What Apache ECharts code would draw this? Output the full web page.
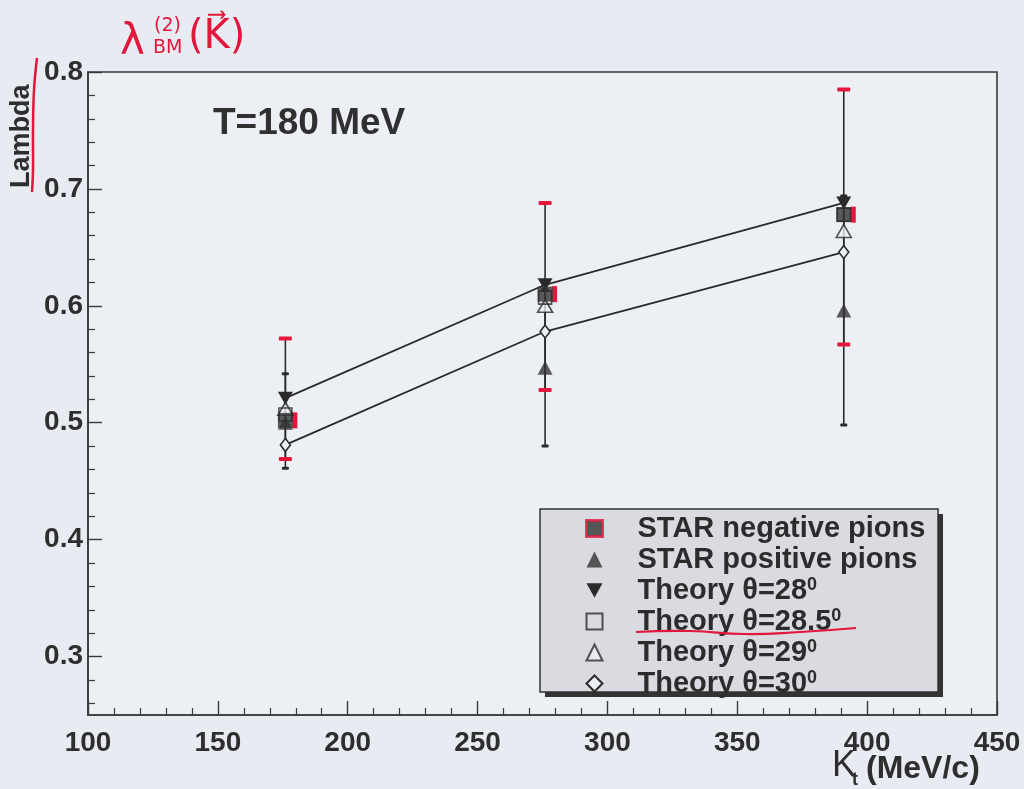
<!DOCTYPE html>
<html>
<head>
<meta charset="utf-8">
<script src="https://cdn.jsdelivr.net/npm/echarts@6/dist/echarts.min.js"></script>
<style>
html,body{margin:0;padding:0;background:#e8ebf1;}
#c{width:1024px;height:789px;}
</style>
</head>
<body>
<div id="c"></div>
<script>
// ---- data ----
const kt = [176, 276, 391];
const starNeg = [0.502, 0.610, 0.678];
const starNegLow = [0.469, 0.528, 0.567];
const starNegHigh = [0.572, 0.688, 0.785];
const starPos = [0.500, 0.547, 0.596];
const starPosLow = [0.461, 0.480, 0.498];
const starPosHigh = [0.542, 0.614, 0.694];
const theory28 = [0.521, 0.618, 0.688];
const theory285 = [0.507, 0.607, 0.678];
const theory29 = [0.512, 0.600, 0.664];
const theory30 = [0.481, 0.578, 0.646];
const xTicks = [100, 150, 200, 250, 300, 350, 400, 450];
const yTicks = [0.3, 0.4, 0.5, 0.6, 0.7, 0.8];
const yMinorTicks = [0.26, 0.28, 0.32, 0.34, 0.36, 0.38, 0.42, 0.44, 0.46, 0.48, 0.52, 0.54, 0.56, 0.58, 0.62, 0.64, 0.66, 0.68, 0.72, 0.74, 0.76, 0.78];

const BG = '#eceff4';
const INK = '#2a2a2a';
const RED = '#e3163c';
const FONT = 'Liberation Sans';

function pairs(ys) { return kt.map((x, i) => [x, ys[i]]); }
function errData(lo, hi, c) { return kt.map((x, i) => [x, lo[i], hi[i], c[i]]); }

function errRender(capColor, capW, capH, redSide) {
  return function (params, api) {
    const x = api.value(0);
    const lo = api.coord([x, api.value(1)]);
    const hi = api.coord([x, api.value(2)]);
    const c = api.coord([x, api.value(3)]);
    const children = [
      { type: 'line', shape: { x1: lo[0], y1: lo[1], x2: hi[0], y2: hi[1] }, style: { stroke: INK, lineWidth: 1.6 } },
      { type: 'rect', shape: { x: hi[0] - capW / 2, y: hi[1] - capH / 2, width: capW, height: capH, r: 1 }, style: { fill: capColor } },
      { type: 'rect', shape: { x: lo[0] - capW / 2, y: lo[1] - capH / 2, width: capW, height: capH, r: 1 }, style: { fill: capColor } }
    ];
    if (redSide) {
      children.push({ type: 'rect', shape: { x: c[0] + 7, y: c[1] - 8, width: 5, height: 16 }, style: { fill: RED }, z2: 100 });
    }
    return { type: 'group', children: children };
  };
}

const openStyle = { color: BG, borderColor: INK, borderWidth: 1.6 };
const downTri = 'path://M0,0 L10,0 L5,9 Z';

const chart = echarts.init(document.getElementById('c'), null, { renderer: 'canvas' });
chart.setOption({
  backgroundColor: '#e8ebf1',
  animation: false,
  textStyle: { fontFamily: FONT },
  grid: { left: 88, right: 27, top: 72, bottom: 74, show: true, backgroundColor: BG, borderColor: '#3a3a3a', borderWidth: 1.6 },
  title: {
    text: 'T=180 MeV', left: 208, top: 100,
    textStyle: { fontSize: 37, fontWeight: 'bold', color: '#303030', fontFamily: FONT }
  },
  xAxis: {
    type: 'value', min: 100, max: 450, interval: 50,
    axisLine: { show: true, lineStyle: { color: '#3a3a3a', width: 1.6 } },
    axisTick: { show: true, inside: true, length: 14, lineStyle: { color: '#3a3a3a', width: 1.4 } },
    minorTick: { show: true, splitNumber: 5, length: 7, lineStyle: { color: '#3a3a3a', width: 1.2 } },
    splitLine: { show: false },
    axisLabel: { margin: 14, fontSize: 28, fontWeight: 'bold', color: '#2e2e2e', fontFamily: FONT, showMaxLabel: true, showMinLabel: true }
  },
  yAxis: [
    {
      type: 'value', min: 0.25, max: 0.8,
      axisLine: { show: true, lineStyle: { color: '#3a3a3a', width: 1.6 } },
      axisTick: { show: true, inside: true, length: 14, customValues: yTicks, lineStyle: { color: '#3a3a3a', width: 1.4 } },
      splitLine: { show: false },
      axisLabel: { margin: 5, fontSize: 28, fontWeight: 'bold', color: '#2e2e2e', fontFamily: FONT, customValues: yTicks, formatter: v => v.toFixed(1) }
    },
    {
      type: 'value', min: 0.25, max: 0.8, position: 'left',
      axisLine: { show: false },
      axisTick: { show: true, inside: true, length: 7, customValues: yMinorTicks, lineStyle: { color: '#3a3a3a', width: 1.2 } },
      splitLine: { show: false },
      axisLabel: { show: false }
    }
  ],
  legend: {
    orient: 'vertical', left: 540, top: 512,
    padding: [2, 20, 0, 45],
    itemWidth: 16, itemHeight: 16, itemGap: 2,
    backgroundColor: 'transparent', borderWidth: 0,
    selectedMode: false,
    textStyle: {
      fontSize: 29, fontWeight: 'bold', color: '#2c2c2c', fontFamily: FONT, lineHeight: 28,
      padding: [0, 0, 0, 30],
      rich: { sup: { fontSize: 18, fontWeight: 'bold', color: '#2c2c2c', fontFamily: FONT, verticalAlign: 'top', lineHeight: 14 } }
    },
    formatter: name => name.startsWith('Theory') ? name + '{sup|0}' : name,
    data: [
      { name: 'STAR negative pions', icon: 'rect', itemStyle: { color: '#333', borderColor: RED, borderWidth: 3 } },
      { name: 'STAR positive pions', icon: 'triangle' },
      { name: 'Theory θ=28', icon: downTri },
      { name: 'Theory θ=28.5', icon: 'rect' },
      { name: 'Theory θ=29', icon: 'triangle' },
      { name: 'Theory θ=30', icon: 'diamond' }
    ]
  },
  graphic: [
    { type: 'rect', z: 3, shape: { x: 545, y: 514, width: 398, height: 183 }, style: { fill: '#333' } },
    { type: 'rect', z: 3, shape: { x: 540, y: 509, width: 398, height: 183 }, style: { fill: '#d9dbe0', stroke: '#333', lineWidth: 1.5 } },
    { type: 'text', x: 8, y: 188, rotation: Math.PI / 2, style: { text: 'Lambda', fontSize: 27, fontWeight: 'bold', fill: '#2e2e2e', fontFamily: FONT } },
    { type: 'text', x: 832, y: 748, style: { text: 'K', fontSize: 36, fill: '#2e2e2e', fontFamily: FONT } },
    { type: 'text', x: 852, y: 771, style: { text: 't', fontSize: 18, fontWeight: 'bold', fill: '#2e2e2e', fontFamily: FONT } },
    { type: 'text', x: 866, y: 753, style: { text: '(MeV/c)', fontSize: 32, fontWeight: 'bold', fill: '#2e2e2e', fontFamily: FONT } },
    { type: 'text', x: 120, y: 22, style: { text: 'λ', fontSize: 42, fill: RED, fontFamily: 'DejaVu Sans' } },
    { type: 'text', x: 154, y: 17, style: { text: '(2)', fontSize: 19, fill: RED, fontFamily: 'DejaVu Sans' } },
    { type: 'text', x: 153, y: 39, style: { text: 'BM', fontSize: 19, fill: RED, fontFamily: 'DejaVu Sans' } },
    { type: 'text', x: 188, y: 18, style: { text: '(K\u20D7)', fontSize: 40, fill: RED, fontFamily: 'DejaVu Sans' } },
    { type: 'polyline', shape: { points: [[37, 58], [34, 90], [33, 130], [33, 170], [32, 192]], smooth: 0.4 }, style: { stroke: RED, lineWidth: 2.5, fill: null } },
    { type: 'polyline', z: 100, shape: { points: [[636, 632], [690, 631], [745, 634], [800, 632], [856, 628]], smooth: 0.5 }, style: { stroke: RED, lineWidth: 2.2, fill: null } }
  ],
  series: [
    { name: 'errPos', type: 'custom', renderItem: errRender(INK, 7, 3, false), data: errData(starPosLow, starPosHigh, starPos), z: 1, silent: true },
    { name: 'errNeg', type: 'custom', renderItem: errRender(RED, 13, 4, true), data: errData(starNegLow, starNegHigh, starNeg), z: 2, silent: true },
    { name: 'Theory θ=28', type: 'line', data: pairs(theory28), symbol: downTri, symbolSize: [15, 13], lineStyle: { color: INK, width: 1.8 }, itemStyle: { color: INK }, z: 5 },
    { name: 'Theory θ=30', type: 'line', data: pairs(theory30), symbol: 'diamond', symbolSize: [10, 13], lineStyle: { color: INK, width: 1.8 }, itemStyle: openStyle, z: 5 },
    { name: 'Theory θ=29', type: 'scatter', data: pairs(theory29), symbol: 'triangle', symbolSize: [15, 13], itemStyle: openStyle, z: 4 },
    { name: 'STAR positive pions', type: 'scatter', data: pairs(starPos), symbol: 'triangle', symbolSize: [15, 14], itemStyle: { color: '#333' }, z: 4 },
    { name: 'STAR negative pions', type: 'scatter', data: pairs(starNeg), symbol: 'rect', symbolSize: 15, itemStyle: { color: '#333' }, z: 6 },
    { name: 'Theory θ=28.5', type: 'scatter', data: pairs(theory285), symbol: 'rect', symbolSize: 13, itemStyle: { color: 'rgba(0,0,0,0)', borderColor: INK, borderWidth: 1.6 }, z: 7 }
  ]
});
</script>
</body>
</html>
